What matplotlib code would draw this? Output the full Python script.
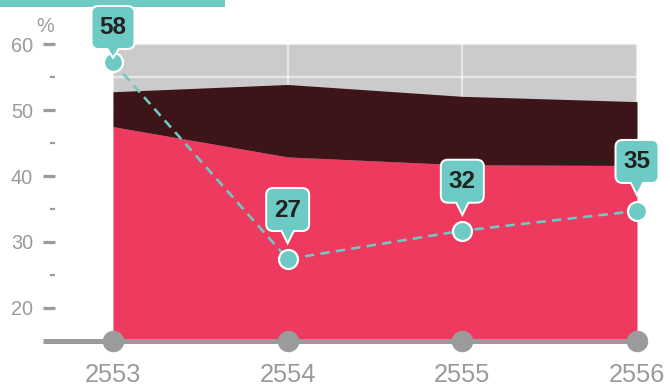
import matplotlib
matplotlib.use("Agg")
import matplotlib.pyplot as plt
import matplotlib.transforms as mtransforms
from matplotlib.patches import FancyBboxPatch, Polygon, Rectangle
from matplotlib.lines import Line2D

# ---- data ----
years = [2553, 2554, 2555, 2556]
year_labels = ["2553", "2554", "2555", "2556"]
red_top = [47.5, 42.9, 41.7, 41.6]      # lower (red) area
dark_top = [52.8, 53.9, 52.1, 51.3]     # upper (dark) area
line_vals = [57.3, 27.4, 31.7, 34.7]    # dashed teal line
line_labels = ["58", "27", "32", "35"]
y_major = [20, 30, 40, 50, 60]
y_minor = [25, 35, 45, 55]

# ---- style ----
TEAL = "#6DCAC4"
RED = "#EE3A5E"
DARK = "#3D1417"
BG = "#CBCBCB"
AXGRAY = "#9B9B9B"
LABGRAY = "#9A9A9A"
FONT = ["Liberation Sans", "DejaVu Sans"]
plt.rcParams["font.family"] = FONT

W, H = 670, 387
fig = plt.figure(figsize=(W / 100, H / 100), dpi=100)
ax = fig.add_axes([113 / W, 1 - 340.7 / H, (637 - 113) / W, (340.7 - 44.3) / H])
ax.set_xlim(years[0], years[-1])
ax.set_ylim(15, 60)
ax.set_facecolor(BG)

ax.fill_between(years, 15, red_top, color=RED, lw=0, zorder=2)
ax.fill_between(years, red_top, dark_top, color=DARK, lw=0, zorder=2)

# grid
ax.set_axisbelow(True)
ax.set_yticks(y_major)
ax.set_yticks(y_minor, minor=True)
ax.set_xticks(years)
ax.set_xticklabels(year_labels)
ax.grid(True, which="both", axis="y", color="white", alpha=0.55, lw=1.6)
ax.grid(True, which="major", axis="x", color="white", alpha=0.55, lw=1.6)

for s in ["top", "right", "bottom", "left"]:
    ax.spines[s].set_color("none")
ax.spines["left"].set_position(("outward", 58 * 0.72))

ax.tick_params(axis="y", which="major", length=12 * 0.72, width=3.2 * 0.72,
               color=AXGRAY, labelcolor=LABGRAY, labelsize=14.3, pad=10 * 0.72)
ax.tick_params(axis="y", which="minor", length=5.5 * 0.72, width=2.2 * 0.72,
               color=AXGRAY)
ax.tick_params(axis="x", which="major", length=0, labelcolor=LABGRAY,
               labelsize=18.3, pad=16)

# baseline axis line and dots
ax.add_line(Line2D([(43 - 113) / (637 - 113), 1.0], [0, 0], transform=ax.transAxes,
                   color=AXGRAY, lw=5 * 0.72, clip_on=False, zorder=3,
                   solid_capstyle="butt"))
ax.plot(years, [15] * len(years), "o", color=AXGRAY, ms=21.5 * 0.72, mew=0,
        clip_on=False, zorder=4)

# dashed line with markers
ax.plot(years, line_vals, color=TEAL, lw=2.6 * 0.72, ls=(0, (3.6, 2.4)),
        zorder=5, clip_on=False)

# callouts (in display pixels)
ident = mtransforms.IdentityTransform()
for x, v, lab in zip(years, line_vals, line_labels):
    px, py = ax.transData.transform((x, v))
    bw, bh = 41, 41
    bottom = py + 29
    top = bottom + bh
    if top > H - 7:
        top = H - 7
        bottom = top - bh
    tip = min(py + 18, bottom - 8)
    for edge, lw_, z in [("white", 4 * 0.72, 10), ("none", 0, 11)]:
        box = FancyBboxPatch((px - bw / 2, bottom), bw, bh,
                             boxstyle="round,pad=0,rounding_size=6",
                             transform=ident, fc=TEAL if edge == "none" else "white",
                             ec=edge, lw=lw_, zorder=z)
        tri = Polygon([[px - 7, bottom + 3], [px + 7, bottom + 3], [px, tip]],
                      closed=True, transform=ident,
                      fc=TEAL if edge == "none" else "white", ec=edge, lw=lw_,
                      zorder=z, joinstyle="miter")
        fig.add_artist(box)
        fig.add_artist(tri)
    fig.text(px, bottom + bh / 2 - 0.5, lab, transform=ident, ha="center",
             va="center", fontsize=17.5, fontweight="bold", color="#222222",
             zorder=12)

ax.plot(years, line_vals, "o", color=TEAL, ms=19 * 0.72, mec="white",
        mew=2.2 * 0.72, zorder=13, clip_on=False, ls="none")

# top teal bar and % label
fig.add_artist(Rectangle((0, H - 7.3), 225, 7.3, transform=ident, fc=TEAL,
                         ec="none", zorder=1))
fig.text(45, H - 27, "%", transform=ident, ha="center", va="center",
         fontsize=14.3, color=LABGRAY)

fig.savefig("out.png", dpi=100)
